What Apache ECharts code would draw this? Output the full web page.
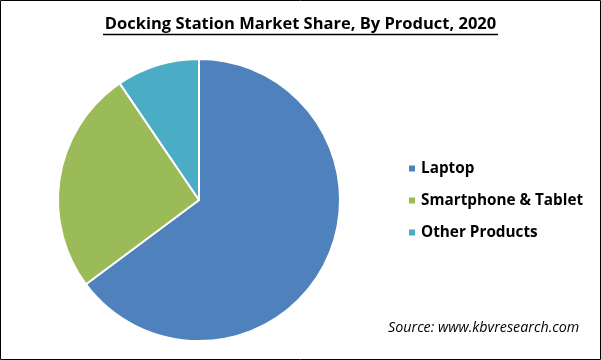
<!DOCTYPE html>
<html><head><meta charset="utf-8">
<script src="https://cdn.jsdelivr.net/npm/echarts@6/dist/echarts.min.js"></script>
<style>html,body{margin:0;padding:0;background:#fff}#c{width:601px;height:360px}</style>
</head><body><div id="c"></div>
<script>
const categories = ["Laptop", "Smartphone & Tablet", "Other Products"];
const shares = [64.8, 25.7, 9.5];
const colors = ["#4F81BD", "#9BBB59", "#4BACC6"];
const titleText = "Docking Station Market Share, By Product, 2020";
const sourceText = "Source: www.kbvresearch.com";

const chart = echarts.init(document.getElementById('c'), null, {renderer: 'canvas'});
chart.setOption({
  animation: false,
  backgroundColor: '#fff',
  color: colors,
  title: {
    text: titleText,
    left: 'center',
    top: 11,
    textStyle: {fontFamily: 'Open Sans', fontWeight: 'bold', fontSize: 16.5, color: '#000'}
  },
  legend: {
    orient: 'vertical',
    left: 407,
    top: 160,
    padding: 0,
    itemWidth: 8,
    itemHeight: 8,
    itemGap: 15,
    icon: 'rect',
    data: categories,
    textStyle: {fontFamily: 'Open Sans', fontWeight: 'bold', fontSize: 15.3, color: '#000', lineHeight: 17}
  },
  graphic: [
    {type: 'rect', shape: {x: 0.5, y: 0.5, width: 600, height: 359}, style: {fill: 'none', stroke: '#000', lineWidth: 1}, z: 100},
    {type: 'line', shape: {x1: 103, y1: 34.5, x2: 498, y2: 34.5}, style: {stroke: '#000', lineWidth: 1.3}},
    {type: 'text', left: 388, top: 321, style: {text: sourceText, font: 'italic 14.3px "Open Sans"', fill: '#000'}}
  ],
  series: [{
    type: 'pie',
    center: [199, 200],
    radius: 141,
    startAngle: 90,
    clockwise: true,
    label: {show: false},
    labelLine: {show: false},
    itemStyle: {borderColor: '#fff', borderWidth: 2},
    data: categories.map((n, i) => ({name: n, value: shares[i]}))
  }]
});
</script></body></html>
